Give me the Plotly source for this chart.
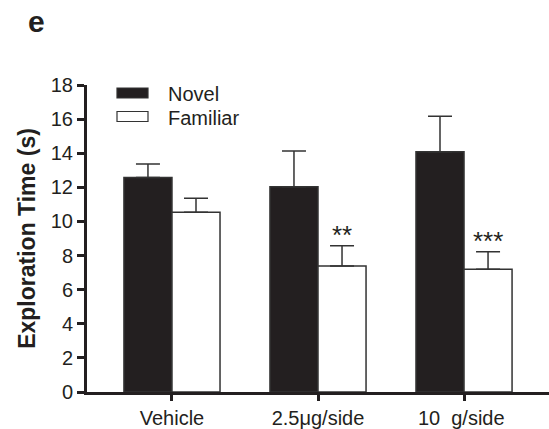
import plotly.graph_objects as go

# Exploration time per treatment group (mean and upper SEM)
groups = ["Vehicle", "2.5\u03bcg/side", "10\u00a0\u00a0g/side\u00a0"]
novel_mean = [12.57, 12.04, 14.09]
novel_sem = [0.80, 2.09, 2.08]
familiar_mean = [10.54, 7.39, 7.20]
familiar_sem = [0.82, 1.19, 1.03]
familiar_sig = ["", "**", "***"]

x_pos = list(range(len(groups)))
ink = "#231f20"
edge = "#333333"
font_family = "Liberation Sans, Arial, sans-serif"

# pixel geometry of the plotting area
PL, PR, PT, PB = 87, 549, 85, 392


def px_x(px):
    return (px - PL) / (PR - PL)


def px_y(py):
    return (PB - py) / (PB - PT)


fig = go.Figure()

fig.add_trace(go.Bar(
    name="Novel", x=x_pos, y=novel_mean,
    marker=dict(color=ink, line=dict(color=edge, width=1.5)),
    error_y=dict(type="data", symmetric=False, array=novel_sem,
                 arrayminus=[0] * len(novel_sem),
                 color=edge, thickness=1.5, width=12),
    showlegend=False,
))
fig.add_trace(go.Bar(
    name="Familiar", x=x_pos, y=familiar_mean,
    marker=dict(color="white", line=dict(color=edge, width=1.5)),
    error_y=dict(type="data", symmetric=False, array=familiar_sem,
                 arrayminus=[0] * len(familiar_sem),
                 color=edge, thickness=1.5, width=12),
    showlegend=False,
))

# significance marks above the familiar bars
annotations = []
for i, (m, s, sig) in enumerate(zip(familiar_mean, familiar_sem, familiar_sig)):
    if sig:
        annotations.append(dict(
            x=i + 0.165, y=m + s, xref="x", yref="y", text=sig,
            showarrow=False, yanchor="bottom", yshift=-6,
            font=dict(family=font_family, size=26, color=ink),
        ))

# legend drawn by hand with wide swatches
legend_items = [("Novel", ink, 93), ("Familiar", "white", 116.5)]
shapes = []
for name, fill, yc in legend_items:
    shapes.append(dict(
        type="rect", xref="paper", yref="paper",
        x0=px_x(117), x1=px_x(148),
        y0=px_y(yc + 5), y1=px_y(yc - 5),
        fillcolor=fill, line=dict(color=edge, width=1.2),
    ))
    annotations.append(dict(
        x=px_x(166), y=px_y(yc + 1), xref="paper", yref="paper",
        text=name, showarrow=False, xanchor="left", yanchor="middle",
        font=dict(family=font_family, size=20, color=ink),
    ))

# panel letter
annotations.append(dict(
    x=px_x(26), y=px_y(22), xref="paper", yref="paper", text="<b>e</b>",
    showarrow=False, xanchor="left", yanchor="middle",
    font=dict(family=font_family, size=30, color=ink),
))

fig.update_layout(
    width=549, height=429,
    margin=dict(l=PL, r=549 - PR, t=PT, b=429 - PB),
    paper_bgcolor="white", plot_bgcolor="white",
    barmode="group", bargap=0.342, bargroupgap=0,
    font=dict(family=font_family, color=ink),
    shapes=shapes, annotations=annotations,
    xaxis=dict(
        range=[-0.582, 2.582], tickmode="array", tickvals=x_pos, ticktext=groups,
        showline=True, linecolor=ink, linewidth=3, ticks="outside",
        ticklen=6, tickwidth=3, tickcolor=ink, showgrid=False, zeroline=False,
        tickfont=dict(family=font_family, size=20, color=ink),
    ),
    yaxis=dict(
        range=[0, 18], dtick=2, showline=True, linecolor=ink, linewidth=3,
        ticks="outside", ticklen=7, tickwidth=3, tickcolor=ink,
        showgrid=False, zeroline=False,
        tickfont=dict(family=font_family, size=20, color=ink),
        title=dict(text="<b>Exploration Time (s)</b>", standoff=9,
                   font=dict(family=font_family, size=23, color=ink)),
    ),
)

fig.write_html("out.html")
